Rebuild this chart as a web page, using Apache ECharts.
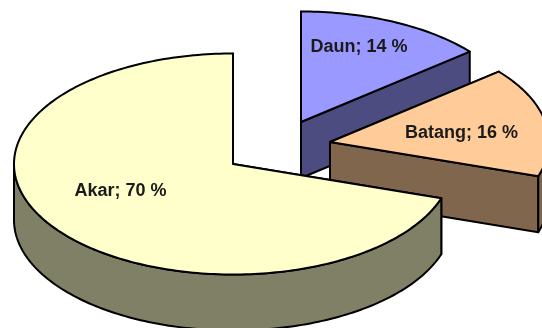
<!DOCTYPE html>
<html>
<head>
<meta charset="utf-8">
<style>html,body{margin:0;padding:0;background:#fff}#chart{width:542px;height:328px}</style>
<script src="https://cdn.jsdelivr.net/npm/echarts@6/dist/echarts.min.js"></script>
</head>
<body>
<div id="chart"></div>
<script>
// Plant organ shares, clockwise from twelve o'clock
const categories = ['Daun', 'Batang', 'Akar'];
const percentages = [14, 16, 70];

// Tilted-disc projection and per-slice styling
const RX = 219, RY = 110.5, DEPTH = 56;
const apexes = [[301, 122], [330, 142], [233, 164]];
const labelCentres = [[359, 47], [461.5, 133.5], [120.5, 191]];
const topColors = ['#9999ff', '#ffcc99', '#ffffcc'];
const sideColors = ['#4c4c80', '#80664c', '#808066'];
const EDGE = { stroke: '#000', lineWidth: 2, lineJoin: 'round' };

const total = percentages.reduce((a, b) => a + b, 0);

function rim(apex, turn, drop) {
  return [apex[0] + RX * Math.sin(turn), apex[1] - RY * Math.cos(turn) + drop];
}

function arc(apex, from, to, drop) {
  const steps = Math.max(2, Math.ceil(Math.abs(to - from) / 0.02));
  const pts = [];
  for (let i = 0; i <= steps; i++) pts.push(rim(apex, from + (to - from) * i / steps, drop));
  return pts;
}

function face(points, fill, z2) {
  return { type: 'polygon', z2, shape: { points }, style: Object.assign({ fill }, EDGE) };
}

function renderSlice(params, api) {
  const i = params.dataIndex;
  const value = api.value(1);
  let before = 0;
  for (let k = 0; k < i; k++) before += percentages[k];
  const start = before / total * 2 * Math.PI;
  const end = (before + value) / total * 2 * Math.PI;
  const apex = apexes[i];
  const foot = [apex[0], apex[1] + DEPTH];
  const side = sideColors[i];
  const base = i * 10;
  const children = [];

  // Radial cut faces
  [start, end].forEach((t, n) => {
    children.push(face([apex, rim(apex, t, 0), rim(apex, t, DEPTH), foot], side, base + n));
  });

  // Outer wall, only on the half of the rim facing the viewer
  const wallFrom = Math.max(start, Math.PI / 2);
  const wallTo = Math.min(end, Math.PI * 1.5);
  if (wallTo > wallFrom) {
    const upper = arc(apex, wallFrom, wallTo, 0);
    const lower = arc(apex, wallTo, wallFrom, DEPTH);
    children.push(face(upper.concat(lower), side, base + 3));
  }

  // Top surface
  children.push(face([apex].concat(arc(apex, start, end, 0)), topColors[i], base + 4));

  children.push({
    type: 'text', z2: 100,
    style: {
      x: labelCentres[i][0], y: labelCentres[i][1],
      text: categories[i] + '; ' + value + ' %',
      fill: '#1a1a1a',
      font: 'bold 18px "Liberation Sans", Arial, sans-serif',
      align: 'center', verticalAlign: 'middle'
    }
  });
  return { type: 'group', children };
}

const chart = echarts.init(document.getElementById('chart'), null, { renderer: 'canvas' });
chart.setOption({
  animation: false,
  backgroundColor: '#ffffff',
  series: [{
    type: 'custom',
    coordinateSystem: 'none',
    renderItem: renderSlice,
    data: categories.map((name, i) => ({ name, value: [i, percentages[i]] }))
  }]
});
</script>
</body>
</html>
